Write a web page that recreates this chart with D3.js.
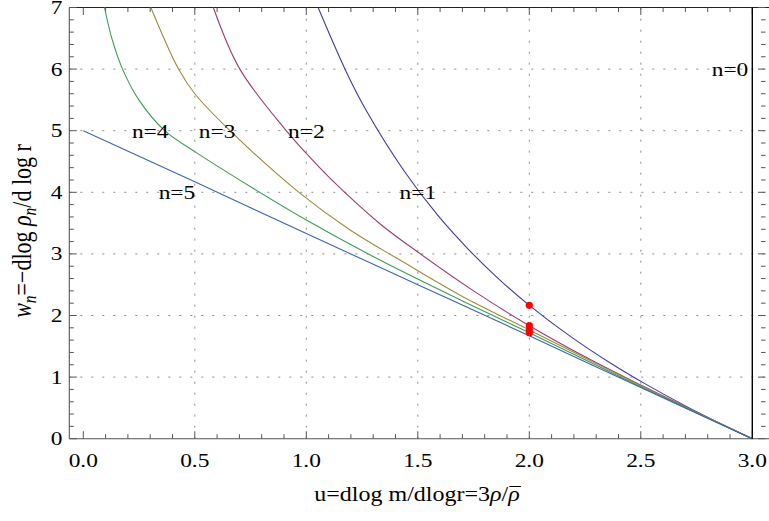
<!DOCTYPE html>
<html>
<head>
<meta charset="utf-8">
<script src="https://cdn.jsdelivr.net/npm/d3@7"></script>
<style>
  html, body { margin: 0; padding: 0; background: #fff; }
  svg { display: block; }
  text { font-family: "Liberation Serif", "Times New Roman", serif; fill: #000; }
</style>
</head>
<body>
<svg id="chart" width="769" height="521"></svg>
<script>
// Tick values and their labels
const xMajorTicks = [0, 0.5, 1, 1.5, 2, 2.5, 3];
const xTickLabels = ["0.0", "0.5", "1.0", "1.5", "2.0", "2.5", "3.0"];
const yMajorTicks = [0, 1, 2, 3, 4, 5, 6, 7];
const yTickLabels = ["0", "1", "2", "3", "4", "5", "6", "7"];
const xGridValues = [0.5, 1, 1.5, 2, 2.5];
const yGridValues = [1, 2, 3, 4, 5, 6];

// Polytrope curves in the (u, w) plane: [u, w_n] pairs
const curveN1 = [[1.053, 7.0], [1.18, 5.95], [1.27, 5.32], [1.438, 4.35], [1.591, 3.62], [1.732, 3.055],
                 [1.861, 2.60], [2.0, 2.165], [2.189, 1.649], [2.367, 1.221], [2.518, 0.894], [2.70, 0.533],
                 [2.87, 0.223], [3.0, 0.0]];
const curveN2 = [[0.583, 7.0], [0.702, 6.0], [0.91, 5.0], [1.0, 4.63], [1.114, 4.20], [1.33, 3.49],
                 [1.5, 3.03], [1.75, 2.40], [2.0, 1.835], [2.25, 1.33], [2.5, 0.87], [2.75, 0.43], [3.0, 0.0]];
const curveN3 = [[0.303, 7.0], [0.427, 6.0], [0.5, 5.6], [0.658, 5.0], [0.96, 4.02], [1.2, 3.38],
                 [1.42, 2.90], [1.7, 2.31], [2.0, 1.765], [2.25, 1.31], [2.5, 0.858], [2.75, 0.425], [3.0, 0.0]];
const curveN4 = [[0.095, 7.0], [0.128, 6.5], [0.176, 6.0], [0.249, 5.5], [0.365, 5.0], [0.5, 4.66],
                 [0.75, 4.09], [1.0, 3.55], [1.33, 2.90], [1.7, 2.237], [2.0, 1.72], [2.5, 0.845], [3.0, 0.0]];
const curveN5 = [[0, 5.0], [0.5, 4.17], [1.0, 3.33], [1.5, 2.50], [2.0, 1.67], [2.5, 0.83], [3.0, 0.0]];
const curveN0 = [[3.0, 0.0], [3.0, 7.0]];

const seriesNames = ["n=1", "n=2", "n=3", "n=4", "n=5"];
const seriesColors = ["#3d3d9c", "#9c3d72", "#9c8c3d", "#3d9c57", "#3d66a8"];

// Marked points at u = 2
const dotU = [2, 2, 2, 2];
const dotW = [2.165, 1.835, 1.765, 1.72];

// In-plot labels
const labelText = ["n=0", "n=1", "n=2", "n=3", "n=4", "n=5"];
const labelU = [2.90, 1.50, 1.00, 0.60, 0.30, 0.42];
const labelW = [6, 4, 5, 5, 5, 4];

const svg = d3.select("#chart");
const frameL = 69.3, frameR = 765.5, frameT = 7.5, frameB = 438.7;

const x = d3.scaleLinear().domain([0, 3]).range([83.3, 752.3]);
const y = d3.scaleLinear().domain([0, 7]).range([438.7, 7.5]);

const hScale = 1.2; // glyphs are drawn wide
const frameColor = "#555";

// grid
const grid = svg.append("g").attr("stroke", "#8c8c8c").attr("stroke-width", 1)
  .attr("stroke-dasharray", "2,9");
grid.selectAll(".gx").data(xGridValues).join("line")
  .attr("x1", d => x(d)).attr("x2", d => x(d))
  .attr("y1", frameB).attr("y2", frameT);
grid.selectAll(".gy").data(yGridValues).join("line")
  .attr("x1", frameL).attr("x2", frameR)
  .attr("y1", d => y(d)).attr("y2", d => y(d));

// frame
const frame = svg.append("g").attr("stroke", frameColor).attr("stroke-width", 1.1).attr("fill", "none");
frame.append("line").attr("x1", frameL).attr("x2", 769).attr("y1", frameT).attr("y2", frameT).attr("stroke", "#222");
frame.append("line").attr("x1", frameL).attr("x2", 769).attr("y1", frameB).attr("y2", frameB);
frame.append("line").attr("x1", frameL).attr("x2", frameL).attr("y1", frameT).attr("y2", frameB);

// ticks
const xMinor = d3.range(0, 31).map(i => i / 10).filter(v => !xMajorTicks.some(m => Math.abs(m - v) < 1e-9));
const yMinor = d3.range(0, 36).map(i => i / 5).filter(v => !yMajorTicks.some(m => Math.abs(m - v) < 1e-9));
const ticks = svg.append("g").attr("stroke", frameColor).attr("stroke-width", 1);
function xTicks(vals, len) {
  ticks.append("g").selectAll("line").data(vals).join("line")
    .attr("x1", d => x(d)).attr("x2", d => x(d)).attr("y1", frameB).attr("y2", frameB - len);
  ticks.append("g").selectAll("line").data(vals).join("line")
    .attr("x1", d => x(d)).attr("x2", d => x(d)).attr("y1", frameT).attr("y2", frameT + len);
}
function yTicks(vals, len) {
  ticks.append("g").selectAll("line").data(vals).join("line")
    .attr("x1", frameL).attr("x2", frameL + len).attr("y1", d => y(d)).attr("y2", d => y(d));
  ticks.append("g").selectAll("line").data(vals).join("line")
    .attr("x1", frameR).attr("x2", frameR - len).attr("y1", d => y(d)).attr("y2", d => y(d));
}
xTicks(xMajorTicks, 7.5);
xTicks(xMinor, 4.5);
yTicks(yMajorTicks, 7.5);
yTicks(yMinor, 4.5);

// wide text helper
function wideText(parent, px, py, anchor, size) {
  return parent.append("text")
    .attr("transform", `translate(${px},${py}) scale(${hScale},1)`)
    .attr("text-anchor", anchor)
    .attr("font-size", size);
}

// tick labels
xMajorTicks.forEach((v, i) => wideText(svg, x(v), 466.5, "middle", 19.5).text(xTickLabels[i]));
yMajorTicks.forEach((v, i) => wideText(svg, 62.5, y(v) + 6.5, "end", 19.5).text(yTickLabels[i]));

// curves
const line = d3.line().x(d => x(d[0])).y(d => y(d[1])).curve(d3.curveCatmullRom.alpha(0.5));
const curves = [curveN1, curveN2, curveN3, curveN4, curveN5];
svg.append("g").selectAll("path").data(curves).join("path")
  .attr("d", line)
  .attr("fill", "none")
  .attr("stroke", (d, i) => seriesColors[i])
  .attr("stroke-width", 1.1);

// n = 0: vertical line at u = 3
svg.append("line")
  .attr("x1", x(curveN0[0][0])).attr("x2", x(curveN0[1][0]))
  .attr("y1", y(curveN0[0][1])).attr("y2", y(curveN0[1][1]))
  .attr("stroke", "#000").attr("stroke-width", 1.4);

// points
svg.append("g").selectAll("circle").data(dotU).join("circle")
  .attr("cx", d => x(d)).attr("cy", (d, i) => y(dotW[i]))
  .attr("r", 3.6).attr("fill", "#ff0000");

// in-plot labels
labelText.forEach((t, i) => wideText(svg, x(labelU[i]), y(labelW[i]) + 7, "middle", 19.5).text(t));

// axis titles
const xt = svg.append("g").attr("transform", `translate(417,501) scale(${hScale},1)`);
const xTitle = xt.append("text").attr("text-anchor", "middle").attr("font-size", 20);
xTitle.append("tspan").text("u=dlog m/dlogr=3");
xTitle.append("tspan").attr("font-style", "italic").text("\u03c1");
xTitle.append("tspan").text("/");
xTitle.append("tspan").attr("font-style", "italic").text("\u03c1");
{
  const nChars = xTitle.node().getNumberOfChars();
  const ext = xTitle.node().getExtentOfChar(nChars - 1);
  xt.append("line")
    .attr("x1", ext.x + 1).attr("x2", ext.x + ext.width + 1)
    .attr("y1", -14.5).attr("y2", -14.5)
    .attr("stroke", "#000").attr("stroke-width", 1);
}

const yt = svg.append("g").attr("transform", `translate(31,231) scale(${hScale},1) rotate(-90)`);
const yTitle = yt.append("text").attr("text-anchor", "middle").attr("font-size", 22);
yTitle.append("tspan").attr("font-style", "italic").text("w");
yTitle.append("tspan").attr("font-style", "italic").attr("font-size", 15.5).attr("dy", 4).text("n");
yTitle.append("tspan").attr("dy", -4).text("=\u2212dlog ");
yTitle.append("tspan").attr("font-style", "italic").text("\u03c1");
yTitle.append("tspan").attr("font-style", "italic").attr("font-size", 15.5).attr("dy", 4).text("n");
yTitle.append("tspan").attr("dy", -4).text("/d log r");
</script>
</body>
</html>
